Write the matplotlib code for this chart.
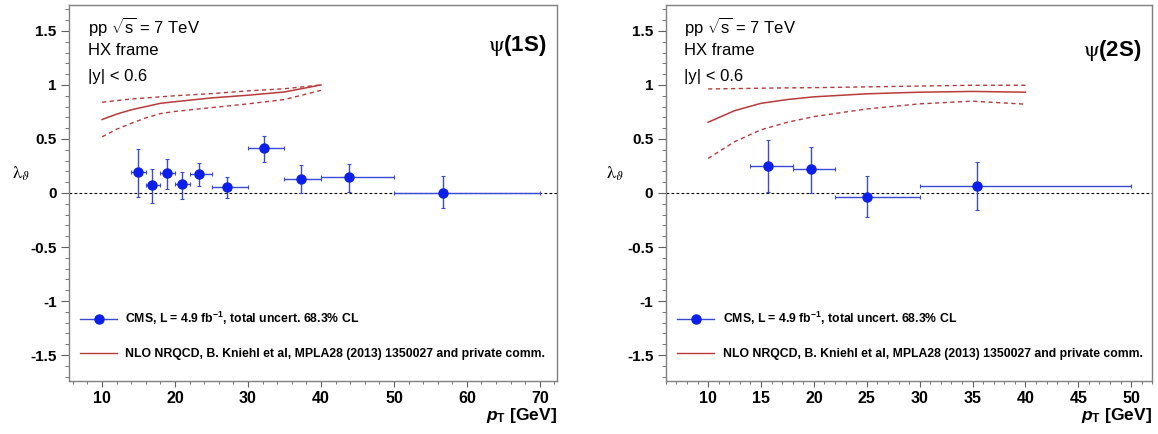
import matplotlib
matplotlib.use("Agg")
import matplotlib.pyplot as plt
from matplotlib.lines import Line2D
from matplotlib.ticker import FixedLocator, MultipleLocator, FormatStrFormatter
import numpy as np

plt.rcParams['font.family'] = ['Liberation Sans', 'DejaVu Sans']
plt.rcParams['axes.unicode_minus'] = False
plt.rcParams['mathtext.fontset'] = 'custom'
plt.rcParams['mathtext.rm'] = 'Liberation Sans'
plt.rcParams['mathtext.it'] = 'Liberation Sans:italic:bold'
plt.rcParams['mathtext.bf'] = 'Liberation Sans:bold'

# ---------------- data : psi(1S) ----------------
pt1 = [14.9, 16.9, 18.9, 20.9, 23.3, 27.1, 32.2, 37.2, 43.9, 56.7]
lo1 = [14, 16, 18, 20, 22, 25, 30, 35, 40, 50]
hi1 = [16, 18, 20, 22, 25, 30, 35, 40, 50, 70]
lam1 = [0.197, 0.071, 0.185, 0.080, 0.173, 0.059, 0.414, 0.130, 0.145, 0.003]
up1 = [0.405, 0.219, 0.315, 0.194, 0.278, 0.148, 0.530, 0.259, 0.266, 0.155]
dn1 = [-0.034, -0.096, 0.040, -0.052, 0.065, -0.050, 0.284, -0.003, 0.010, -0.142]

th_pt1 = [10, 12, 14, 16, 18, 20, 25, 30, 35, 40]
th_c1 = [0.68, 0.73, 0.77, 0.80, 0.83, 0.845, 0.88, 0.905, 0.935, 1.0]
th_u1 = [0.84, 0.855, 0.87, 0.88, 0.89, 0.90, 0.92, 0.945, 0.965, 1.0]
th_l1 = [0.52, 0.59, 0.645, 0.695, 0.735, 0.755, 0.79, 0.825, 0.865, 0.95]

# ---------------- data : psi(2S) ----------------
pt2 = [15.67, 19.68, 25.04, 35.4]
lo2 = [14, 18, 22, 30]
hi2 = [18, 22, 30, 50]
lam2 = [0.253, 0.219, -0.034, 0.068]
up2 = [0.488, 0.429, 0.157, 0.290]
dn2 = [0.006, -0.003, -0.219, -0.157]

th_pt2 = [10, 12.5, 15, 17.5, 20, 25, 30, 35, 40]
th_c2 = [0.655, 0.762, 0.83, 0.865, 0.89, 0.918, 0.933, 0.94, 0.933]
th_u2 = [0.963, 0.966, 0.97, 0.973, 0.975, 0.982, 0.99, 0.997, 0.997]
th_l2 = [0.32, 0.475, 0.585, 0.655, 0.707, 0.778, 0.825, 0.85, 0.822]

y_ticks = [-1.5, -1, -0.5, 0, 0.5, 1, 1.5]

leg_cms = 'CMS, L = 4.9 fb$^{\\mathbf{-1}}$, total uncert. 68.3% CL'
leg_th = 'NLO NRQCD, B. Kniehl et al, MPLA28 (2013) 1350027 and private comm.'

blue_pt = '#0a1ef0'
blue_ln = '#3a4ad8'
red = '#b83a3a'

fig = plt.figure(figsize=(11.58, 4.34), dpi=100)

panels = [
    dict(rect=[0.0598, 0.1221, 0.4209, 0.8664], xlim=(5.5, 72.3), xmaj=10, xmin=2,
         pt=pt1, lo=lo1, hi=hi1, lam=lam1, up=up1, dn=dn1,
         tpt=th_pt1, tc=th_c1, tu=th_u1, tl=th_l1, name='(1S)', namey=0.893,
         ylx=-0.10, leg_x=0.027),
    dict(rect=[0.5750, 0.1221, 0.4201, 0.8664], xlim=(6.0, 52.0), xmaj=5, xmin=1,
         pt=pt2, lo=lo2, hi=hi2, lam=lam2, up=up2, dn=dn2,
         tpt=th_pt2, tc=th_c2, tu=th_u2, tl=th_l2, name='(2S)', namey=0.878,
         ylx=-0.105, leg_x=0.028),
]

for p in panels:
    ax = fig.add_axes(p['rect'])
    ax.set_xlim(*p['xlim'])
    ax.set_ylim(-1.74, 1.74)
    for s in ax.spines.values():
        s.set_color('#808080')
        s.set_linewidth(1.0)

    # zero line
    ax.axhline(0, color='black', ls=(0, (2.5, 2)), lw=0.8, zorder=1)

    # theory
    ax.plot(p['tpt'], p['tc'], color=red, lw=1.1, zorder=2)
    ax.plot(p['tpt'], p['tu'], color=red, lw=1.0, ls=(0, (3, 2.5)), zorder=2)
    ax.plot(p['tpt'], p['tl'], color=red, lw=1.0, ls=(0, (3, 2.5)), zorder=2)

    # data
    x = np.array(p['pt']); y = np.array(p['lam'])
    xerr = [x - np.array(p['lo']), np.array(p['hi']) - x]
    yerr = [y - np.array(p['dn']), np.array(p['up']) - y]
    ax.errorbar(x, y, xerr=xerr, yerr=yerr, fmt='none', ecolor=blue_ln,
                elinewidth=1.0, capsize=1.5, capthick=0.8, zorder=3)
    ax.plot(x, y, 'o', color=blue_pt, ms=6.5, zorder=4)

    # ticks
    ax.yaxis.set_major_locator(FixedLocator(y_ticks))
    ax.yaxis.set_major_formatter(FormatStrFormatter('%g'))
    ax.yaxis.set_minor_locator(MultipleLocator(0.1))
    ax.xaxis.set_major_locator(MultipleLocator(p['xmaj']))
    ax.xaxis.set_minor_locator(MultipleLocator(p['xmin']))
    ax.tick_params(axis='y', which='major', direction='out', length=6, width=0.8,
                   color='#606060', pad=3, labelsize=11)
    ax.tick_params(axis='y', which='minor', direction='out', length=3, width=0.6,
                   color='#606060')
    ax.tick_params(axis='x', which='major', direction='out', length=4, width=0.8,
                   color='#606060', pad=3.5, labelsize=11.5)
    ax.tick_params(axis='x', which='minor', direction='out', length=2.5, width=0.6,
                   color='#606060')
    for lab in ax.get_xticklabels() + ax.get_yticklabels():
        lab.set_fontweight('bold')

    # texts
    ax.text(0.038, 0.944, r'pp $\sqrt{\mathrm{s}}$ = 7 TeV', transform=ax.transAxes,
            fontsize=12, va='center', ha='left')
    ax.text(0.038, 0.878, 'HX frame', transform=ax.transAxes,
            fontsize=12, va='center', ha='left')
    ax.text(0.038, 0.809, '|y| < 0.6', transform=ax.transAxes,
            fontsize=12, va='center', ha='left')
    ax.text(0.978, p['namey'], r'$\mathrm{\psi}$' + p['name'], transform=ax.transAxes,
            fontsize=16, fontweight='bold', va='center', ha='right',
            math_fontfamily='stix')
    ax.text(p['ylx'], 0.55, r'$\mathrm{\lambda}_{\vartheta}$', transform=ax.transAxes,
            fontsize=13, va='center', ha='center', math_fontfamily='stix')
    ax.text(1.0, -0.092, r'$p_{\mathbf{T}}$ [GeV]', transform=ax.transAxes,
            fontsize=12.5, fontweight='bold', va='center', ha='right')

    # legend
    h_cms = Line2D([], [], color=blue_ln, lw=1.0, marker='o', ms=6.5,
                   markerfacecolor=blue_pt, markeredgecolor=blue_pt)
    h_th = Line2D([], [], color=red, lw=1.0)
    ax.legend([h_cms, h_th], [leg_cms, leg_th], loc='lower left',
              bbox_to_anchor=(p['leg_x'] - 0.012, 0.045), frameon=False,
              prop={'size': 8.8, 'weight': 'bold'}, handlelength=3.0,
              handletextpad=0.7, labelspacing=1.75, borderaxespad=0.0,
              borderpad=0.3)

fig.savefig('out.png', dpi=100)
